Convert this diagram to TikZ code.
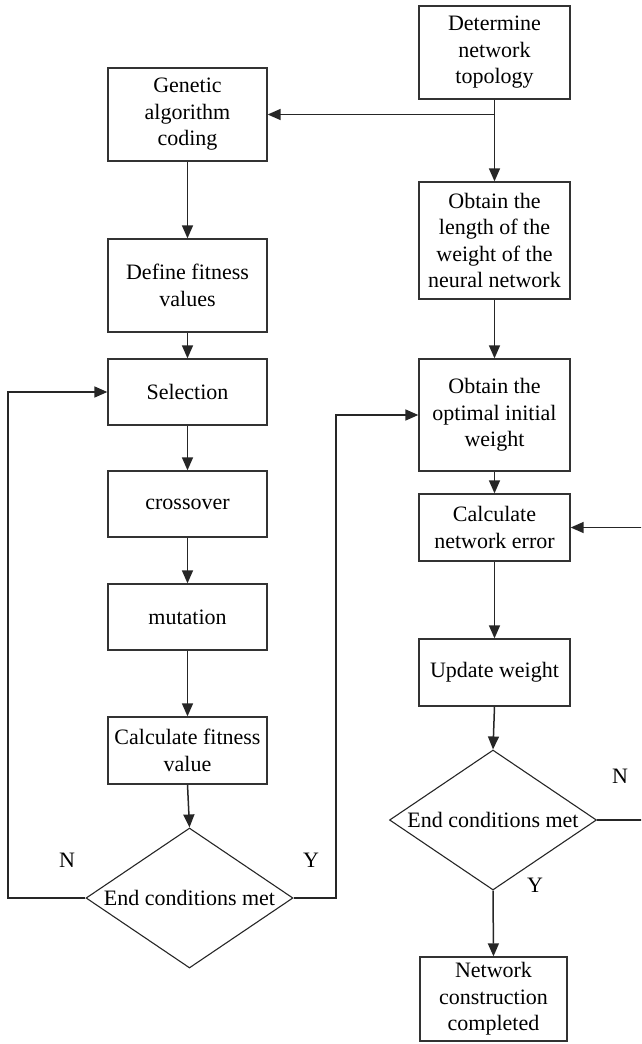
\documentclass[tikz,border=0pt]{standalone}
\usepackage{fontspec}
\setmainfont{Liberation Serif}
\usetikzlibrary{arrows.meta,shapes.geometric}
\begin{document}
\begin{tikzpicture}[x=1pt,y=-1pt,
  font=\fontsize{22}{26.5}\selectfont,
  box/.style={draw=black!80,line width=1.3pt,align=center,inner sep=0pt,text=black},
  dec/.style={draw=black!85,line width=1.1pt,diamond,inner sep=0pt,minimum width=207pt,minimum height=140pt},
  conn/.style={draw=black!85,line width=1.5pt},
  arr/.style={conn,-{Triangle[length=13pt,width=11pt]}},
  lbl/.style={text=black}]
\useasboundingbox (0,0) rectangle (641,1044);
\clip (0,0) rectangle (641,1044);
% right column
\node[box,minimum width=151pt,minimum height=93pt] (top) at (494.5,52.5) {Determine\\network\\topology};
\node[box,minimum width=151pt,minimum height=117pt] (len) at (494.5,240.5) {Obtain the\\length of the\\weight of the\\neural network};
\node[box,minimum width=151pt,minimum height=112pt] (opt) at (494.5,415) {Obtain the\\optimal initial\\weight};
\node[box,minimum width=151pt,minimum height=67pt] (err) at (494.5,527.5) {Calculate\\network error};
\node[box,minimum width=151pt,minimum height=67pt] (upd) at (494.5,672.5) {Update weight};
\node[dec,label=center:{End conditions met}] (d2) at (493,820) {};
\node[box,minimum width=147pt,minimum height=84pt] (fin) at (493.5,999) {Network\\construction\\completed};
% left column
\node[box,minimum width=159pt,minimum height=93pt] (gen) at (187.5,114.5) {Genetic\\algorithm\\coding};
\node[box,minimum width=159pt,minimum height=93pt] (def) at (187.5,285.5) {Define fitness\\values};
\node[box,minimum width=159pt,minimum height=66pt] (sel) at (187.5,392) {Selection};
\node[box,minimum width=159pt,minimum height=66pt] (cro) at (187.5,504) {crossover};
\node[box,minimum width=159pt,minimum height=66pt] (mut) at (187.5,617) {mutation};
\node[box,minimum width=159pt,minimum height=67pt] (cal) at (187.5,750.5) {Calculate fitness\\value};
\node[dec,label=center:{End conditions met}] (d1) at (189.5,898) {};
% labels
\node[lbl] (n1) at (67,860) {N};
\node[lbl] (y1) at (311,860) {Y};
\node[lbl] (n2) at (620,776) {N};
\node[lbl] (y2) at (535,885) {Y};
% helper coordinates
\coordinate (lx) at (8,898);
\coordinate (rx) at (336,898);
\coordinate (ex) at (644,820);
% connectors
\draw[arr] (top.south) -- (len.north);
\draw[arr] (top.south |- gen.east) -- (gen.east);
\draw[arr] (len.south) -- (opt.north);
\draw[arr] (opt.south) -- (err.north);
\draw[arr] (err.south) -- (upd.north);
\draw[arr] (upd.south) -- (d2.north);
\draw[arr] (d2.south) -- (fin.north);
\draw[arr] (d2.east) -- (ex) |- (err.east);
\draw[arr] (gen.south) -- (def.north);
\draw[arr] (def.south) -- (sel.north);
\draw[arr] (sel.south) -- (cro.north);
\draw[arr] (cro.south) -- (mut.north);
\draw[arr] (mut.south) -- (cal.north);
\draw[arr] (cal.south) -- (d1.north);
\draw[arr] (d1.west) -- (lx) |- (sel.west);
\draw[arr] (d1.east) -- (rx) |- (opt.west);
\end{tikzpicture}
\end{document}
